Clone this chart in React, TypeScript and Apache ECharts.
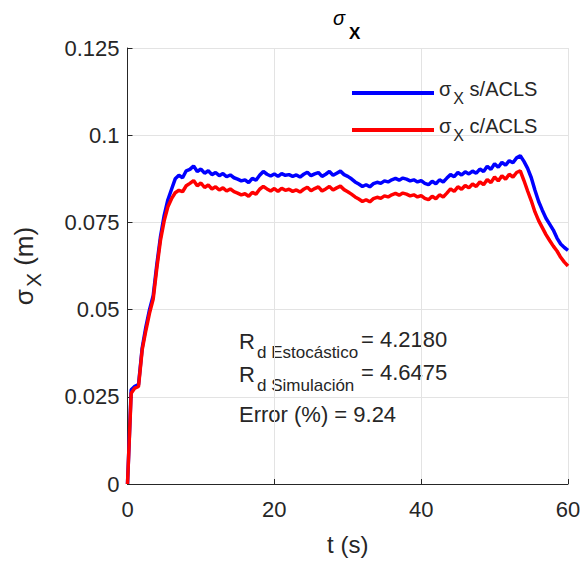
import React, { useEffect, useRef } from "react";
import * as echarts from "echarts";

const STEP = 0.5; // s between samples
const xTicks = [0, 20, 40, 60];
const yTicks = [0, 0.025, 0.05, 0.075, 0.1, 0.125];

const sinACLS = [
  0, 0.027, 0.028, 0.0285, 0.039, 0.045, 0.05, 0.054, 0.063, 0.071,
  0.077, 0.0815, 0.0845, 0.0875, 0.0885, 0.0878, 0.0898, 0.0902, 0.0912, 0.0896,
  0.0903, 0.0891, 0.0898, 0.0887, 0.0893, 0.0884, 0.089, 0.0881, 0.0886, 0.0878,
  0.0874, 0.0869, 0.0872, 0.0864, 0.0876, 0.0871, 0.0885, 0.0896, 0.0888, 0.0883,
  0.0889, 0.0882, 0.089, 0.0885, 0.0887, 0.0882, 0.0886, 0.088, 0.0888, 0.0894,
  0.0884, 0.0889, 0.0893, 0.0882, 0.0888, 0.0896, 0.0885, 0.0891, 0.0897, 0.0887,
  0.0882, 0.0875, 0.0866, 0.086, 0.0853, 0.0858, 0.0852, 0.0861, 0.0865, 0.0862,
  0.0869, 0.0866, 0.0872, 0.0876, 0.0871, 0.0877, 0.0874, 0.0869, 0.0872, 0.0866,
  0.087, 0.0862, 0.0858, 0.0868, 0.0861, 0.0872, 0.0866, 0.0877, 0.0887, 0.0881,
  0.0893, 0.0886, 0.0895, 0.0889, 0.0897, 0.0891, 0.0903, 0.0896, 0.0911, 0.0902,
  0.0918, 0.0908, 0.0922, 0.0914, 0.0927, 0.0921, 0.0935, 0.0941, 0.0925, 0.0905,
  0.0878, 0.0842, 0.081, 0.0785, 0.0762, 0.0745, 0.0728, 0.0705, 0.0688, 0.0678,
  0.067,
];

const conACLS = [
  0, 0.026, 0.0275, 0.028, 0.0385, 0.044, 0.049, 0.053, 0.062, 0.07,
  0.0755, 0.0795, 0.0818, 0.0835, 0.0842, 0.0838, 0.0855, 0.0862, 0.087, 0.0855,
  0.0863, 0.085, 0.0857, 0.0846, 0.0852, 0.0843, 0.0849, 0.084, 0.0846, 0.0838,
  0.0834, 0.0829, 0.0832, 0.0825, 0.0836, 0.0831, 0.0845, 0.0853, 0.0846, 0.084,
  0.0847, 0.0839, 0.0848, 0.0842, 0.0845, 0.0839, 0.0843, 0.0837, 0.0845, 0.0851,
  0.0841, 0.0847, 0.0852, 0.084, 0.0846, 0.0853, 0.0843, 0.0849, 0.0854, 0.0844,
  0.0838, 0.0831, 0.0823, 0.0817, 0.081, 0.0815, 0.0809, 0.0818, 0.0822, 0.0819,
  0.0826, 0.0823, 0.0829, 0.0833, 0.0828, 0.0834, 0.0831, 0.0826, 0.0829, 0.0823,
  0.0827, 0.0819, 0.0815, 0.0825, 0.0818, 0.0829, 0.0823, 0.0834, 0.0846, 0.0839,
  0.0852, 0.0845, 0.0856, 0.0849, 0.086, 0.0853, 0.0866, 0.0858, 0.0873, 0.0864,
  0.088, 0.0869, 0.0884, 0.0874, 0.0888, 0.088, 0.0893, 0.0898, 0.087, 0.084,
  0.0812, 0.078, 0.0755, 0.0735, 0.0715, 0.0698, 0.0682, 0.0668, 0.065, 0.0636,
  0.0625,
];

const seriesNames = ["s/ACLS", "c/ACLS"];
const annotations = [
  { sub: "d Estocástico", value: "= 4.2180" },
  { sub: "d Simulación", value: "= 4.6475" },
];
const errorText = "Error (%) = 9.24";

const FONT = "'Liberation Sans', Arial, Helvetica, sans-serif";
const TXT = "#262626";

export default function App() {
  const ref = useRef<HTMLDivElement>(null);
  useEffect(() => {
    document.body.style.margin = "0";
    if (!ref.current) return;
    const chart = echarts.init(ref.current, null, { renderer: "svg" });
    const toPairs = (arr: number[]) => arr.map((v, i) => [i * STEP, v]);
    const subRich = {
      s: { fontSize: 20, fontFamily: FONT, color: TXT, padding: [0, 0, 8, 0] },
      x: { fontSize: 16, fontFamily: FONT, color: TXT, padding: [10, 0, 0, 2] },
      r: { fontSize: 20, fontFamily: FONT, color: TXT, padding: [0, 0, 8, 0] },
    };
    const graphics: any[] = [];
    graphics.push({
      type: "text",
      left: 333,
      top: 8,
      style: { text: "σ", font: `italic 20px ${FONT}`, fill: "#000" },
    });
    graphics.push({
      type: "text",
      left: 349,
      top: 25,
      style: { text: "X", font: `bold 17px ${FONT}`, fill: "#000" },
    });
    annotations.forEach((a, k) => {
      const y0 = 330 + k * 33;
      graphics.push({
        type: "text",
        left: 239,
        top: y0,
        style: { text: "R", font: `22px ${FONT}`, fill: TXT },
      });
      graphics.push({
        type: "text",
        left: 257,
        top: y0 + 14,
        style: { text: a.sub, font: `17px ${FONT}`, fill: TXT },
      });
      graphics.push({
        type: "text",
        left: 361,
        top: y0 - 2,
        style: { text: a.value, font: `22px ${FONT}`, fill: TXT },
      });
    });
    graphics.push({
      type: "text",
      left: 239,
      top: 403,
      style: { text: errorText, font: `22px ${FONT}`, fill: TXT },
    });

    chart.setOption({
      animation: false,
      backgroundColor: "#fff",
      grid: { left: 127.5, right: 19, top: 48, bottom: 78, containLabel: false },
      legend: {
        orient: "vertical",
        left: 347,
        top: 74,
        icon: "rect",
        itemWidth: 82,
        itemHeight: 4,
        itemGap: 10,
        data: seriesNames,
        formatter: (n: string) => `{s|σ}{x|X}{r| ${n}}`,
        textStyle: { rich: subRich, color: TXT },
      },
      xAxis: {
        type: "value",
        min: 0,
        max: 60,
        interval: 20,
        name: "t (s)",
        nameLocation: "middle",
        nameGap: 48,
        nameTextStyle: { fontSize: 24, fontFamily: FONT, color: TXT },
        axisLine: { show: true, onZero: false, lineStyle: { color: TXT, width: 1 } },
        axisTick: { show: true, inside: true, length: 5, lineStyle: { color: TXT } },
        axisLabel: {
          fontSize: 22,
          fontFamily: FONT,
          color: TXT,
          margin: 14,
          formatter: (v: number) => (xTicks.includes(v) ? String(v) : ""),
        },
        splitLine: { show: true, lineStyle: { color: "#e3e3e3", width: 1 } },
      },
      yAxis: {
        type: "value",
        min: 0,
        max: 0.125,
        interval: 0.025,
        name: "{s|σ}{x|X}{r| (m)}",
        nameLocation: "middle",
        nameGap: 82,
        nameRotate: 90,
        nameTextStyle: {
          rich: {
            s: { fontSize: 26, fontFamily: FONT, color: TXT, padding: [0, 0, 9, 0] },
            x: { fontSize: 21, fontFamily: FONT, color: TXT, padding: [11, 0, 0, 2] },
            r: { fontSize: 26, fontFamily: FONT, color: TXT, padding: [0, 0, 9, 0] },
          },
        },
        axisLine: { show: true, lineStyle: { color: TXT, width: 1 } },
        axisTick: { show: true, inside: true, length: 5, lineStyle: { color: TXT } },
        axisLabel: {
          fontSize: 22,
          fontFamily: FONT,
          color: TXT,
          margin: 8,
          formatter: (v: number) => {
            const m = yTicks.find((t) => Math.abs(t - v) < 1e-9);
            return m === undefined ? "" : String(m);
          },
        },
        splitLine: { show: true, lineStyle: { color: "#e3e3e3", width: 1 } },
      },
      series: [
        {
          name: seriesNames[0],
          type: "line",
          data: toPairs(sinACLS),
          showSymbol: false,
          color: "#0000ff",
          lineStyle: { width: 3.5, color: "#0000ff" },
        },
        {
          name: seriesNames[1],
          type: "line",
          data: toPairs(conACLS),
          showSymbol: false,
          color: "#ff0000",
          lineStyle: { width: 3.5, color: "#ff0000" },
        },
      ],
      graphic: graphics,
    });
    return () => chart.dispose();
  }, []);
  return <div ref={ref} style={{ width: 587, height: 562 }} />;
}
